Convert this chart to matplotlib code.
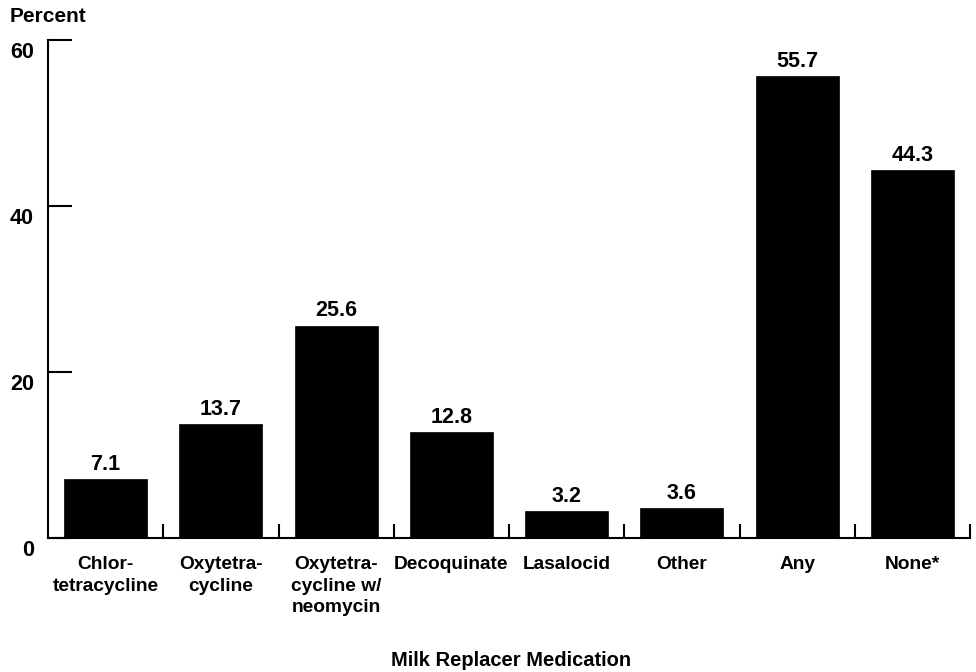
import matplotlib
matplotlib.use("Agg")
import matplotlib.pyplot as plt
from matplotlib.transforms import ScaledTranslation
import numpy as np

categories = ["Chlor-\ntetracycline", "Oxytetra-\ncycline", "Oxytetra-\ncycline w/\nneomycin",
              "Decoquinate", "Lasalocid", "Other", "Any", "None*"]
values = [7.1, 13.7, 25.6, 12.8, 3.2, 3.6, 55.7, 44.3]
yticks = [0, 20, 40, 60]

plt.rcParams['font.family'] = ['Liberation Sans', 'DejaVu Sans']
fs_cat = 13.8
fs_num = 15.5

fig = plt.figure(figsize=(9.76, 6.72), dpi=100)
W, H = 976, 672
ax = fig.add_axes([48 / W, (H - 538) / H, (970 - 48) / W, (538 - 40) / H])

x = np.arange(len(categories))
ax.bar(x, values, width=0.72, color='black', edgecolor='black', linewidth=0.5)
for xi, v in zip(x, values):
    ax.text(xi, v + 0.5, f"{v}", ha='center', va='bottom', fontsize=fs_num, fontweight='bold')

ax.set_xlim(-0.5, len(categories) - 0.5)
ax.set_ylim(0, 60)
ax.spines['top'].set_visible(False)
ax.spines['right'].set_visible(False)
for s in ['left', 'bottom']:
    ax.spines[s].set_linewidth(1.5)

ax.set_yticks(yticks)
ax.set_yticklabels([str(t) for t in yticks], fontsize=fs_num, fontweight='bold')
ax.tick_params(axis='y', direction='in', length=17, width=1.5, pad=10, left=True)
off = ScaledTranslation(0, -10 / 100, fig.dpi_scale_trans)
for lab in ax.get_yticklabels():
    lab.set_transform(lab.get_transform() + off)

# category labels (minor), boundary ticks (major)
ax.set_xticks(np.arange(0.5, len(categories), 1.0))
ax.set_xticklabels([])
ax.tick_params(axis='x', which='major', direction='in', length=10, width=1.5)
ax.set_xticks(x, minor=True)
ax.set_xticklabels(categories, minor=True, fontsize=fs_cat, fontweight='bold', linespacing=1.35)
ax.tick_params(axis='x', which='minor', length=0, pad=13)

fig.text(10 / W, 1 - 17 / H, "Percent", ha='left', va='center', fontsize=15, fontweight='bold')
fig.text(511 / W, 1 - 660 / H, "Milk Replacer Medication", ha='center', va='center',
         fontsize=14.5, fontweight='bold')

fig.savefig("out.png", dpi=100)
